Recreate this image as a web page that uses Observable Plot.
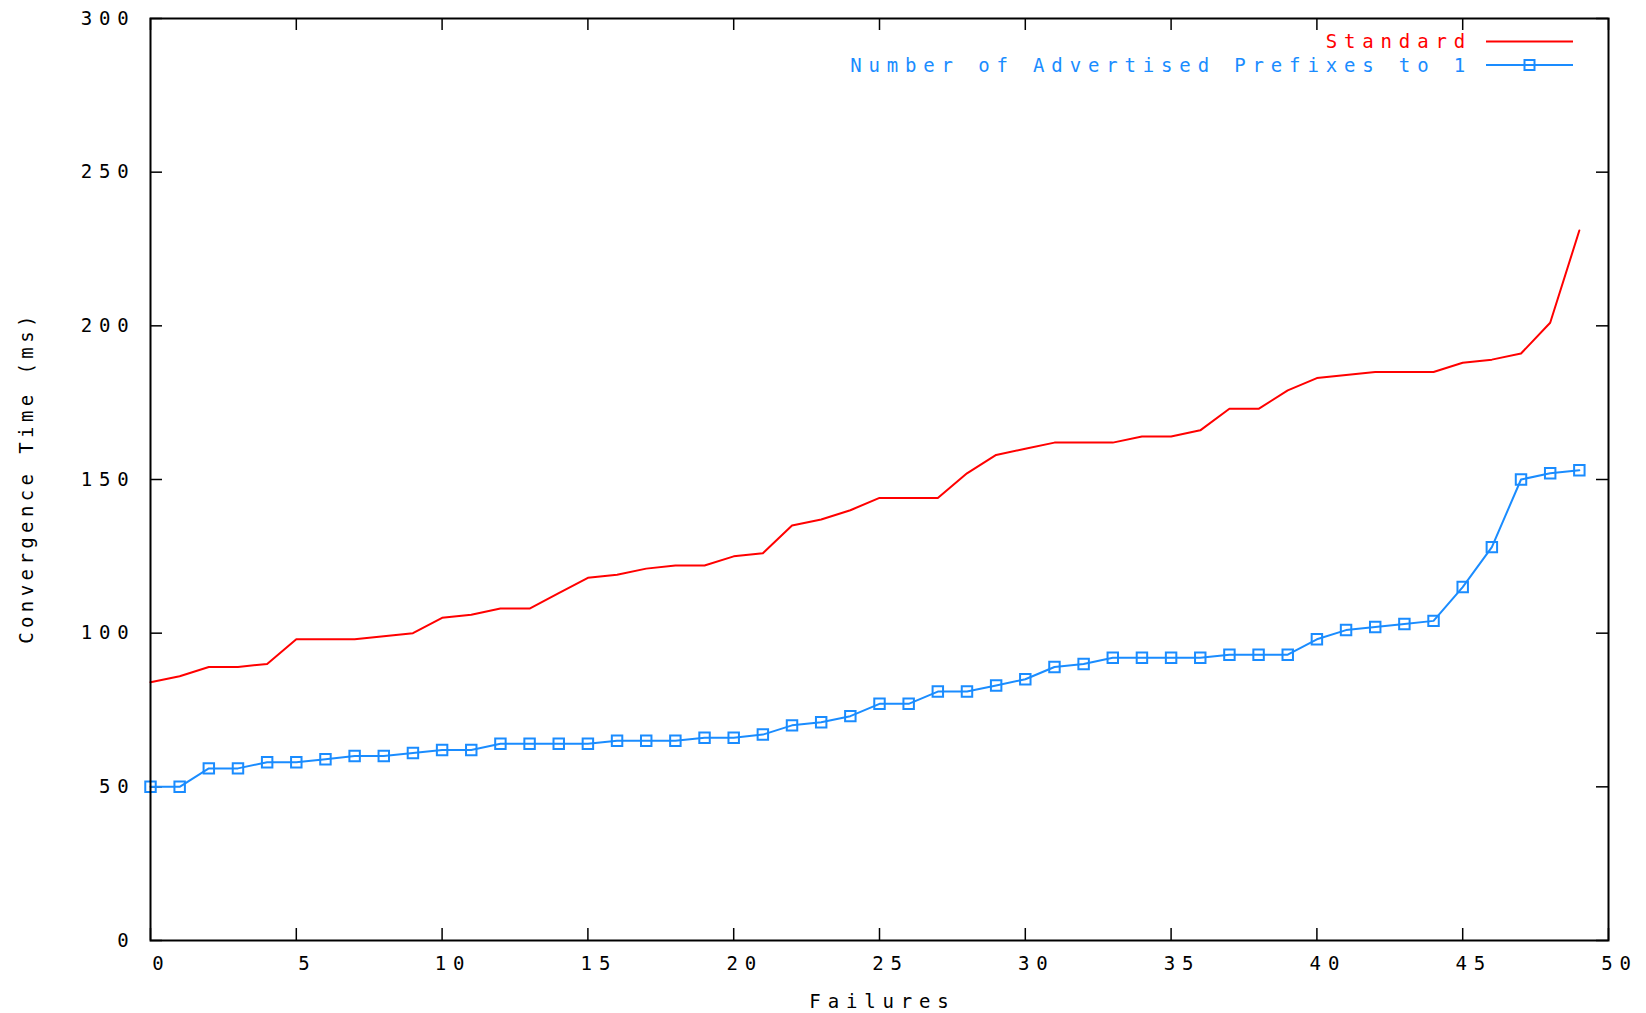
<!DOCTYPE html>
<html>
<head>
<meta charset="utf-8">
<script src="https://cdn.jsdelivr.net/npm/d3@7"></script>
<script src="https://cdn.jsdelivr.net/npm/@observablehq/plot@0.6"></script>
<style>
  html, body { margin: 0; padding: 0; background: #fff; }
</style>
</head>
<body>
<div id="chart"></div>
<script>
// ---- data ----
const failures = [0,1,2,3,4,5,6,7,8,9,10,11,12,13,14,15,16,17,18,19,20,21,22,23,24,25,26,27,28,29,30,31,32,33,34,35,36,37,38,39,40,41,42,43,44,45,46,47,48,49];
const standard = [84,86,89,89,90,98,98,98,99,100,105,106,108,108,113,118,119,121,122,122,125,126,135,137,140,144,144,144,152,158,160,162,162,162,164,164,166,173,173,179,183,184,185,185,185,188,189,191,201,231];
const prefixesTo1 = [50,50,56,56,58,58,59,60,60,61,62,62,64,64,64,64,65,65,65,66,66,67,70,71,73,77,77,81,81,83,85,89,90,92,92,92,92,93,93,93,98,101,102,103,104,115,128,150,152,153];
const seriesNames = ["Standard", "Number of Advertised Prefixes to 1"];
const seriesColors = ["#ff0000", "#1a8cff"];
const xTicks = [0,5,10,15,20,25,30,35,40,45,50];
const yTicks = [0,50,100,150,200,250,300];
const xLabel = "Failures";
const yLabel = "Convergence Time (ms)";

const redRows = failures.map((f, i) => ({f, v: standard[i]}));
const blueRows = failures.map((f, i) => ({f, v: prefixesTo1[i]}));

const W = 1646, H = 1013;
const mL = 150, mR = 38, mT = 18, mB = 73;
const fw = W - mL - mR, fh = H - mT - mB;
const tickLen = 12;
const font = "'DejaVu Sans Mono', 'Liberation Mono', monospace";
const ls = "6.85px";

const chart = Plot.plot({
  width: W, height: H,
  marginLeft: mL, marginRight: mR, marginTop: mT, marginBottom: mB,
  x: {domain: [0, 50]},
  y: {domain: [0, 300]},
  style: {fontFamily: font, fontSize: "19px", letterSpacing: ls, background: "#fff", color: "#000", overflow: "visible"},
  marks: [
    // inward ticks (mirrored on all four sides)
    Plot.tickX(xTicks, {x: d => d, insetTop: fh - tickLen, stroke: "#000", strokeWidth: 1.5}),
    Plot.tickX(xTicks, {x: d => d, insetBottom: fh - tickLen, stroke: "#000", strokeWidth: 1.5}),
    Plot.tickY(yTicks, {y: d => d, insetRight: fw - tickLen, stroke: "#000", strokeWidth: 1.5}),
    Plot.tickY(yTicks, {y: d => d, insetLeft: fw - tickLen, stroke: "#000", strokeWidth: 1.5}),
    Plot.axisX({ticks: xTicks, tickSize: 0, tickPadding: 16, dx: 11, label: null, fill: "#000"}),
    Plot.axisY({ticks: yTicks, tickSize: 0, tickPadding: 15, label: null, fill: "#000"}),
    Plot.text([xLabel], {frameAnchor: "bottom", dy: 67, dx: 3, text: d => d, fill: "#000", textAnchor: "middle"}),
    Plot.text([yLabel], {frameAnchor: "left", dx: -124, dy: -2, rotate: -90, text: d => d, fill: "#000", textAnchor: "middle", className: "ylabel"}),
    // series
    Plot.line(redRows, {x: "f", y: "v", stroke: seriesColors[0], strokeWidth: 2}),
    Plot.line(blueRows, {x: "f", y: "v", stroke: seriesColors[1], strokeWidth: 2}),
    Plot.dot(blueRows, {x: "f", y: "v", symbol: "square", r: 5.9, stroke: seriesColors[1], strokeWidth: 2, fill: "none"}),
    Plot.frame({stroke: "#000", strokeWidth: 2})
  ]
});

const svg = d3.select(chart);
// character pitch for the rotated y-axis title
svg.selectAll(".ylabel, .ylabel text").style("letter-spacing", "4.4px");

// legend inside the frame (top-right), gnuplot style
const legend = svg.append("g")
  .attr("font-family", font)
  .attr("font-size", 19)
  .attr("letter-spacing", ls);
const rows = [41.5, 65];
const textEnd = 1472, lineX1 = 1486, lineX2 = 1573;
seriesNames.forEach((name, i) => {
  const y = rows[i];
  legend.append("text")
    .attr("x", textEnd).attr("y", y)
    .attr("text-anchor", "end")
    .attr("dy", "0.35em")
    .attr("fill", seriesColors[i])
    .text(name);
  legend.append("line")
    .attr("x1", lineX1).attr("x2", lineX2)
    .attr("y1", y).attr("y2", y)
    .attr("stroke", seriesColors[i]).attr("stroke-width", 2);
  if (i === 1) {
    legend.append("rect")
      .attr("x", (lineX1 + lineX2) / 2 - 5).attr("y", y - 5)
      .attr("width", 10).attr("height", 10)
      .attr("fill", "none").attr("stroke", seriesColors[i]).attr("stroke-width", 2);
  }
});

document.getElementById("chart").appendChild(chart);
</script>
</body>
</html>
